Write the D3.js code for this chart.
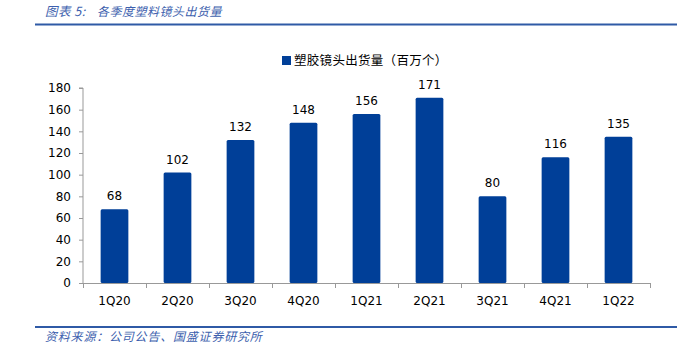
<!DOCTYPE html>
<html><head><meta charset="utf-8">
<script src="https://cdn.jsdelivr.net/npm/d3@7"></script>
<style>body{margin:0;background:#fff;}svg{display:block;}</style>
</head><body>
<svg id="c" width="677" height="352"></svg>
<script>
const categories = ["1Q20","2Q20","3Q20","4Q20","1Q21","2Q21","3Q21","4Q21","1Q22"];
const values = [68,102,132,148,156,171,80,116,135];
const yTicks = [0,20,40,60,80,100,120,140,160,180];
const seriesName = "塑胶镜头出货量（百万个）";
const titleLabel = "图表 5:";
const titleText = "各季度塑料镜头出货量";
const sourceText = "资料来源：公司公告、国盛证券研究所";

const svg = d3.select("#c");
const blue = "#003F98";
const pL = 83, pR = 650, pT = 88, pB = 283;
const x = d3.scaleBand().domain(categories).range([pL, pR]).paddingInner(0.56).paddingOuter(0.28);
const y = d3.scaleLinear().domain([0,180]).range([pB, pT]);

// header
svg.append("text").attr("x",45).attr("y",16).attr("fill","#3D5FAE")
  .attr("font-family","'Noto Sans CJK SC'").attr("font-size",12.5).attr("font-style","italic")
  .attr("letter-spacing",0.5).text(titleLabel);
svg.append("text").attr("x",97).attr("y",16).attr("fill","#3D5FAE")
  .attr("font-family","'Noto Sans CJK SC'").attr("font-size",12).attr("font-style","italic")
  .attr("letter-spacing",0.5).text(titleText);
svg.append("line").attr("x1",35).attr("x2",677).attr("y1",24.5).attr("y2",24.5).attr("stroke","#2F5AA6").attr("stroke-width",2);

// footer
svg.append("line").attr("x1",35).attr("x2",677).attr("y1",327).attr("y2",327).attr("stroke","#2F5AA6").attr("stroke-width",2);
svg.append("text").attr("x",45).attr("y",341).attr("fill","#3D5FAE")
  .attr("font-family","'Noto Sans CJK SC'").attr("font-size",12).attr("font-style","italic")
  .attr("letter-spacing",0.8).text(sourceText);

// legend
svg.append("rect").attr("x",282).attr("y",56).attr("width",9).attr("height",9).attr("fill",blue);
svg.append("text").attr("x",294).attr("y",65).attr("fill","#000")
  .attr("font-family","'Noto Sans CJK SC'").attr("font-size",12.5).attr("letter-spacing",0.3).text(seriesName);

// y axis
const yAxis = d3.axisLeft(y).tickValues(yTicks).tickSize(4).tickPadding(8);
const gy = svg.append("g").attr("transform",`translate(${pL},0)`).call(yAxis);
gy.select(".domain").attr("stroke","#999").attr("d",`M-4,${pT}H0V${pB}`);
gy.selectAll(".tick line").attr("stroke","#999");
gy.selectAll("text").attr("font-family","'DejaVu Sans'").attr("font-size",12).attr("fill","#000");

// x axis
const gx = svg.append("g").attr("transform",`translate(0,${pB})`);
gx.append("line").attr("x1",pL).attr("x2",pR).attr("y1",0.5).attr("y2",0.5).attr("stroke","#999");
const bounds = d3.range(categories.length+1).map(i => pL + i*(pR-pL)/categories.length);
gx.selectAll(".xt").data(bounds).enter().append("line")
  .attr("x1",d=>Math.round(d)+0.5).attr("x2",d=>Math.round(d)+0.5).attr("y1",0).attr("y2",5).attr("stroke","#999");
gx.selectAll(".xl").data(categories).enter().append("text")
  .attr("x",d=>x(d)+x.bandwidth()/2).attr("y",22).attr("text-anchor","middle")
  .attr("font-family","'DejaVu Sans'").attr("font-size",12).attr("fill","#000").text(d=>d);

// bars
svg.selectAll(".bar").data(values).enter().append("rect")
  .attr("x",(d,i)=>x(categories[i])).attr("width",x.bandwidth())
  .attr("y",d=>y(d)).attr("height",d=>pB-y(d)).attr("rx",1.5).attr("fill",blue);

// value labels
svg.selectAll(".vl").data(values).enter().append("text")
  .attr("x",(d,i)=>x(categories[i])+x.bandwidth()/2).attr("y",d=>y(d)-9)
  .attr("text-anchor","middle").attr("font-family","'DejaVu Sans'").attr("font-size",12).attr("fill","#000")
  .text(d=>d);
</script>
</body></html>
